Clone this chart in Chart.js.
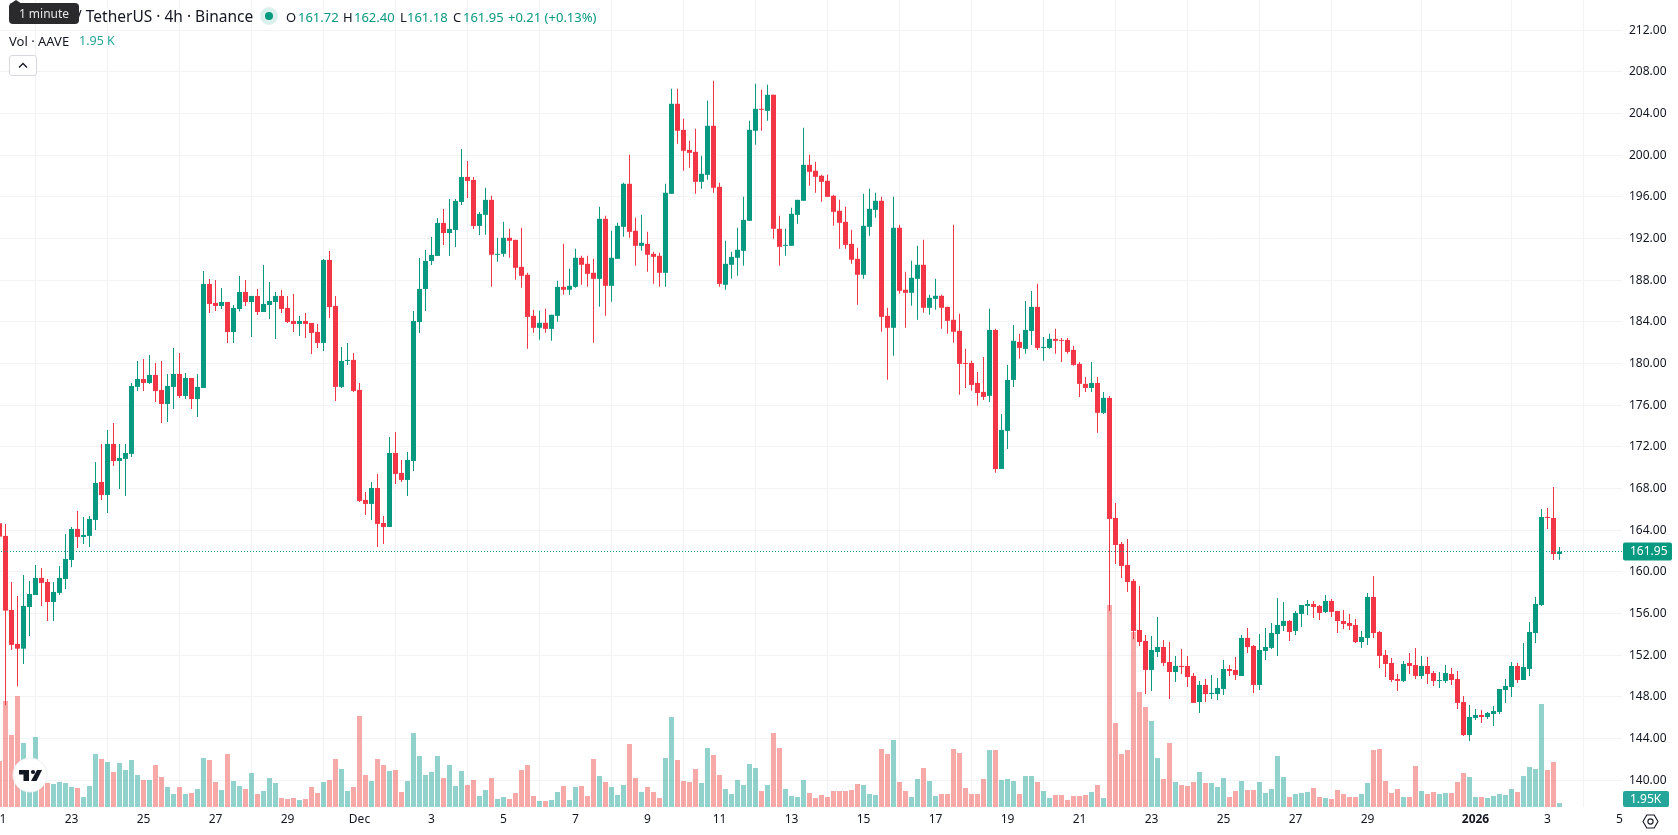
<!DOCTYPE html>
<html lang="en">
<head>
<meta charset="utf-8">
<title>AAVE / TetherUS 4h</title>
<script src="https://cdn.jsdelivr.net/npm/chart.js@4"></script>
<style>
  html, body { margin: 0; padding: 0; background: #fff; width: 1678px; height: 835px; overflow: hidden; }
  body { position: relative; font-family: "Noto Sans", sans-serif; color: #131722; }
  #price { position: absolute; left: -20px; top: 0; }
  .t { position: absolute; white-space: nowrap; line-height: 18px; }
  .v { color: #089981; }
  #tip { position: absolute; left: 9px; top: 3px; width: 70px; height: 21px; background: #2a2a2d; border-radius: 4px;
         color: #e6e6e6; font-size: 12px; line-height: 21px; text-align: center; }
  #tipArrow { position: absolute; left: 10px; top: 0; width: 0; height: 0; border-left: 6px solid transparent;
              border-right: 6px solid transparent; border-bottom: 4px solid #2a2a2d; }
  #dot { position: absolute; left: 260px; top: 7px; width: 18px; height: 18px; border-radius: 50%; background: rgba(8,153,129,.14); }
  #dot i { position: absolute; left: 5px; top: 5px; width: 8px; height: 8px; border-radius: 50%; background: #089981; }
  #fold { position: absolute; left: 9px; top: 55px; width: 26px; height: 19px; border: 1px solid #d6d8de; border-radius: 3px; background: #fff; }
  #logo { position: absolute; left: 12px; top: 757px; width: 36px; height: 36px; }
  #gear { position: absolute; left: 1642px; top: 813px; width: 17px; height: 17px; }
</style>
</head>
<body>
<canvas id="price" width="1698" height="835"></canvas>

<div class="t" style="left:76px;top:7px;font-size:15.5px">/ TetherUS · 4h · Binance</div>
<div id="tipArrow"></div><div id="tip">1 minute</div>
<div id="dot"><i></i></div>
<div class="t" style="left:286px;top:8px;font-size:13px">O</div><div class="t v" style="left:298px;top:8px;font-size:13px">161.72</div>
<div class="t" style="left:343px;top:8px;font-size:13px">H</div><div class="t v" style="left:354px;top:8px;font-size:13px">162.40</div>
<div class="t" style="left:400px;top:8px;font-size:13px">L</div><div class="t v" style="left:407px;top:8px;font-size:13px">161.18</div>
<div class="t" style="left:453px;top:8px;font-size:13px">C</div><div class="t v" style="left:463px;top:8px;font-size:13px">161.95</div>
<div class="t v" style="left:508px;top:8px;font-size:13px">+0.21 (+0.13%)</div>
<div class="t" style="left:9px;top:32px;font-size:13px">Vol · AAVE</div>
<div class="t" style="left:79px;top:32px;font-size:12.5px;color:#26a69a">1.95 K</div>
<div id="fold"><svg width="26" height="19" viewBox="0 0 26 19"><path d="M9 11.5 L13 7.5 L17 11.5" fill="none" stroke="#131722" stroke-width="1.3"/></svg></div>

<svg id="logo" viewBox="0 0 36 36">
  <circle cx="18" cy="18" r="17" fill="#fff" stroke="#eeeff2" stroke-width="1"/>
  <path d="M7 13 H17 V24 H11.5 V17.5 H7 Z" fill="#131722"/>
  <circle cx="21" cy="15" r="2.1" fill="#131722"/>
  <path d="M25 13 H30 L24.5 24 H19 Z" fill="#131722"/>
</svg>
<svg id="gear" viewBox="0 0 17 17">
  <path d="M4.8 2 H12.2 L16 8.5 L12.2 15 H4.8 L1 8.5 Z" fill="none" stroke="#131722" stroke-width="1.1"/>
  <circle cx="8.5" cy="8.5" r="2.6" fill="none" stroke="#131722" stroke-width="1.1"/>
</svg>

<script>
// AAVE/USDT 4h candles, one per array slot, starting 21 Nov 00:00.
const opens = [
  164.67,163.46,156.35,153.09,152.64,156.64,157.79,159.43,159.04,157.12,
  157.99,159.33,161.15,164.13,163.36,163.46,164.99,168.64,167.39,172.29,
  170.65,170.85,171.33,177.76,178.52,178.14,178.91,177.47,176.12,177.76,
  179.0,176.89,178.62,176.6,177.66,187.64,185.82,185.53,185.91,183.03,
  185.24,186.87,185.91,186.49,184.95,185.62,185.91,186.49,185.34,184.09,
  183.8,184.09,183.9,183.03,181.98,189.94,185.53,177.76,180.25,180.35,
  177.47,166.91,166.53,168.06,164.7,164.32,171.42,169.5,168.83,170.65,
  183.99,187.16,189.85,190.33,193.5,192.53,192.82,195.51,197.91,197.62,
  193.21,194.27,195.71,190.44,190.53,192.07,191.87,189.28,188.52,184.58,
  183.43,183.91,183.33,184.58,187.36,187.08,187.36,190.15,189.57,188.71,
  188.13,193.89,187.46,190.05,193.12,197.25,192.74,191.3,191.49,190.53,
  190.34,188.71,196.29,204.93,202.43,200.51,200.32,197.44,198.11,202.82,
  196.96,187.56,189.48,190.15,190.82,193.7,202.34,204.45,204.25,205.79,
  192.93,191.3,191.3,194.27,195.62,199.07,198.5,198.02,197.54,196.1,
  194.66,193.6,191.49,190.05,188.52,193.12,194.75,195.62,184.58,183.43,
  193.03,187.08,186.79,188.13,189.48,185.35,186.21,186.5,185.44,184.2,
  183.14,180.06,180.06,178.14,177.28,176.9,183.23,169.89,173.54,178.43,
  182.08,181.41,183.13,185.44,181.5,181.5,182.37,182.27,182.27,181.31,
  179.97,178.05,177.66,178.14,175.27,176.7,165.18,162.69,160.67,159.14,
  154.43,153.38,150.6,152.32,152.8,151.36,150.4,150.98,150.98,150.02,
  147.52,149.16,148.29,148.29,148.77,150.69,150.6,150.02,153.67,152.9,
  149.16,152.42,152.71,154.05,154.82,155.3,154.34,155.97,156.74,156.93,
  156.74,156.16,157.21,156.25,155.29,155.1,154.91,153.28,153.66,157.6,
  154.24,152.03,151.26,149.73,149.54,151.26,151.07,150.02,150.98,150.3,
  149.54,149.54,150.21,149.73,147.52,144.35,145.99,146.27,146.08,146.37,
  146.56,148.67,148.96,150.98,149.63,150.69,154.14,156.83,165.28,165.18,161.72
];
const highs = [
  164.9,164.6,159.04,157.7,159.71,159.14,160.67,160.39,159.33,159.04,
  160.58,163.65,164.32,165.86,165.28,165.38,170.56,172.29,173.63,174.3,
  172.29,172.29,178.14,180.25,180.44,180.83,180.06,180.25,179.0,181.5,
  181.02,179.1,178.62,179.0,188.89,188.12,188.02,187.26,185.91,185.62,
  188.4,188.02,186.49,187.16,189.46,187.83,186.87,187.06,186.49,186.68,
  184.57,184.86,183.9,183.8,190.04,190.81,186.49,181.59,181.98,181.02,
  178.14,167.68,168.64,169.41,165.38,172.96,173.44,170.75,171.52,185.05,
  190.14,190.9,192.15,193.97,194.84,195.8,195.8,200.6,199.45,197.91,
  194.55,196.87,196.1,192.07,193.6,192.93,191.87,193.03,188.71,185.16,
  185.06,185.25,184.68,187.94,191.49,189.09,191.01,190.34,190.34,190.05,
  195.04,194.18,192.74,193.51,197.34,200.03,193.99,194.27,192.64,190.72,
  190.63,197.25,206.37,206.37,203.49,201.38,202.53,199.94,205.21,207.13,
  197.34,191.78,190.72,193.03,196.0,203.29,206.85,206.27,206.75,205.79,
  194.18,192.93,194.95,195.71,202.62,200.03,199.36,198.11,198.11,196.19,
  195.71,195.04,192.83,191.11,196.29,196.77,196.39,196.0,185.35,196.0,
  193.31,188.8,189.86,191.3,191.87,186.6,188.13,186.6,185.44,193.31,
  184.77,181.41,180.26,179.2,180.64,185.25,183.33,175.17,179.87,183.71,
  182.85,186.01,186.97,187.65,182.56,182.85,183.33,182.46,182.46,181.7,
  180.16,178.72,180.16,178.72,177.28,176.89,166.62,162.88,163.17,159.33,
  158.66,153.95,153.86,155.68,153.47,153.28,151.94,152.61,151.94,150.31,
  149.54,149.73,150.12,149.83,151.55,151.07,151.84,153.95,154.63,152.99,
  154.05,154.63,155.11,157.5,157.12,155.39,156.26,156.83,157.31,157.22,
  156.83,157.79,157.41,156.25,156.35,155.97,155.49,154.34,157.98,159.61,
  154.34,152.51,151.74,150.21,151.46,152.22,152.7,151.94,151.84,150.5,
  150.4,151.07,150.78,150.5,148.1,147.23,146.85,146.75,146.56,147.14,
  148.77,149.73,151.36,151.26,153.18,155.2,157.6,166.04,166.14,168.15,162.40
];
const lows = [
  163.0,147.2,152.52,149.0,151.17,153.86,157.79,156.74,155.3,155.3,
  157.79,158.37,160.48,162.3,162.69,162.4,164.03,166.91,165.66,170.17,
  167.97,167.29,171.04,177.37,177.37,178.04,176.32,174.3,174.4,175.64,
  176.7,176.6,175.64,174.88,177.66,184.86,185.05,185.24,181.98,181.98,
  185.0,185.53,182.55,184.67,184.95,184.28,182.36,184.86,183.9,183.03,
  182.65,182.46,180.92,181.5,181.21,184.38,176.41,177.66,179.87,177.28,
  166.72,165.47,164.99,162.4,162.69,164.32,168.45,168.64,167.29,169.69,
  182.94,185.05,189.46,190.33,191.38,190.33,191.19,195.22,195.9,192.92,
  192.34,192.35,187.36,189.76,190.24,190.15,188.04,187.27,181.41,182.95,
  182.28,182.95,182.18,184.0,186.6,186.6,187.27,187.56,187.36,181.99,
  185.44,184.58,185.92,190.05,192.16,192.07,189.38,190.82,188.8,187.65,
  187.36,187.36,196.29,201.09,198.5,198.78,196.29,196.77,197.63,196.39,
  187.36,187.08,188.13,188.42,189.38,193.7,200.99,202.34,203.29,191.97,
  189.38,190.34,191.3,193.41,195.62,197.06,196.39,195.52,196.0,193.22,
  191.01,191.01,189.57,185.64,188.13,192.26,193.99,183.05,178.44,180.76,
  186.69,183.43,185.54,184.2,184.87,184.68,185.16,183.33,182.85,181.99,
  177.0,177.66,177.38,175.94,176.51,176.32,169.51,169.89,171.81,177.76,
  180.45,180.93,181.79,181.31,180.26,181.41,180.93,180.16,180.93,179.78,
  176.8,177.28,177.28,173.35,175.17,156.26,160.77,159.42,158.08,153.57,
  152.9,148.29,148.58,151.84,150.98,147.81,149.44,150.21,148.96,147.43,
  146.47,147.52,147.81,147.72,148.2,150.02,149.64,150.02,152.23,148.39,
  148.68,151.55,152.61,151.94,154.34,153.38,153.95,154.72,155.87,155.59,
  155.39,156.07,155.68,154.14,154.53,154.43,153.18,152.7,152.99,153.66,
  150.78,149.92,149.44,148.58,149.44,150.21,149.73,149.73,149.25,149.06,
  148.87,149.34,149.15,146.85,144.26,143.78,145.79,145.51,145.89,145.22,
  146.37,147.43,148.0,149.34,149.63,150.02,153.18,156.73,164.12,161.15,161.18
];
const closes = [
  163.39,156.29,153.0,152.64,156.74,157.89,159.43,158.95,157.12,158.08,
  159.43,161.25,164.13,163.36,163.55,165.09,168.54,167.39,172.29,170.65,
  170.94,171.42,177.85,178.52,178.14,178.91,177.37,176.12,177.85,179.0,
  176.89,178.62,176.6,177.76,187.64,185.72,185.53,185.91,183.03,185.34,
  186.87,185.91,186.49,184.95,185.72,186.01,186.49,185.24,183.99,183.8,
  184.09,183.8,182.94,181.98,189.94,185.43,177.76,180.25,180.35,177.37,
  166.82,166.53,168.06,164.61,164.32,171.42,169.41,168.83,170.75,184.09,
  187.16,189.85,190.42,193.5,192.53,192.92,195.61,197.91,197.53,193.21,
  194.36,195.71,190.44,190.53,192.07,191.78,189.19,188.42,184.48,183.43,
  183.91,183.33,184.68,187.36,187.08,187.46,190.15,189.48,188.61,188.13,
  193.89,187.46,190.15,193.22,197.25,192.64,191.3,191.59,190.44,190.24,
  188.71,196.39,204.93,202.34,200.42,200.22,197.44,198.21,202.82,196.87,
  187.65,189.57,190.24,190.92,193.79,202.43,204.45,204.35,205.79,192.93,
  191.2,191.39,194.37,195.71,199.07,198.4,197.92,197.44,196.0,194.56,
  193.51,191.39,189.96,188.52,193.22,194.85,195.62,184.48,183.43,193.03,
  186.98,186.79,188.23,189.48,185.35,186.31,186.5,185.35,184.1,183.05,
  179.97,179.97,177.95,177.18,176.8,183.23,169.89,173.63,178.43,182.18,
  181.5,183.23,185.44,181.5,181.6,182.37,182.18,182.18,181.12,179.87,
  178.05,177.66,178.14,175.27,176.71,165.09,162.59,160.58,159.04,154.34,
  153.28,150.6,152.51,152.8,151.27,150.4,150.98,150.88,149.92,147.43,
  149.16,148.29,148.39,148.87,150.69,150.5,150.12,153.67,152.8,149.16,
  152.51,152.8,154.15,154.91,155.3,154.24,156.07,156.83,156.93,156.64,
  156.07,157.22,156.16,155.29,155.01,154.82,153.28,153.76,157.6,154.14,
  151.94,151.17,149.63,149.54,151.17,150.98,150.02,150.98,150.21,149.54,
  149.63,150.3,149.63,147.43,144.35,146.08,146.27,146.08,146.47,146.66,
  148.77,149.06,150.98,149.63,150.88,154.24,156.93,165.28,165.18,161.72,161.95
];
// Traded volume per candle, in thousands of AAVE.
const volumes = [
  23,53,36,55.5,32,20,35,12,12,11.5,
  12.5,12,10,9.5,5,10.5,26.5,24,22.5,17.5,
  22,18.5,23.5,16,13.5,13.5,21,15,10,6.5,
  10,6.5,7,9,24.5,23.5,12.5,8.5,26.5,13,
  10.5,9,17,6.5,8,14.5,12,4.5,4,4.5,
  3.5,4,10,7,12.5,13.5,24,19,8,10,
  45.5,16,13,24,21,18,18.5,7.5,13,37,
  25.5,16,17.5,25.5,14.5,21,10.5,18,11,13.5,
  5.5,8.5,14.5,4,5,4,7,18.5,21,5.5,
  3,3,3.5,7.5,10.5,3.5,10,10.5,5.5,24,
  15.5,12.5,10,6,11,31.5,14.5,7.5,10,7.5,
  4.5,24.5,45,23.5,13,12.5,19,12,29.5,26,
  16,9,6.5,13.5,11,21.5,19.5,8,11,37,
  29.5,9,5.5,5,13.5,7,4.5,6,5,8,
  8,8,8.5,11.5,11,6.5,6,29,26.5,33.5,
  12.5,8,5,14,19.5,13,5.5,6.5,6.5,29,
  27,9.5,6.5,6.5,14,28.5,28.5,13.5,14,13,
  6.5,15.5,15.5,12.5,8,4.5,6,6,3.5,5.5,
  5.5,6,7.5,11,4.5,101,42,26.5,28.5,87.5,
  57.5,50,43,24.5,14,32,12.5,11,10.5,12.5,
  17.5,12,12,10,14.5,5,8,13,8.5,8.5,
  12.5,7,9,25.5,15,5,6.5,7,7.5,9.5,
  5,4.5,4,8.5,6.5,5,5,6.5,12,28.5,
  29,13,7,9,5,5,20.5,8,6.5,7.5,
  6.5,7,7,12.5,17,15,5,5,4.5,5.5,
  6.5,6,9,7.5,15.5,20,19,51.5,18.5,22.5,1.95
];
const dateTickSlots = [0,12,24,36,48,60,72,84,96,108,120,132,144,156,168,180,192,204,216,228,246,258,270];
const dateTickLabels = ['21','23','25','27','29','Dec','3','5','7','9','11','13','15','17','19','21','23','25','27','29','2026','3','5'];
const priceTicks = [140,144,148,152,156,160,164,168,172,176,180,184,188,192,196,200,204,208,212];
const lastPrice = 161.95;
const lastVolume = 1.95;

const UP = '#089981', DOWN = '#F23645';
const VOL_UP = 'rgba(38,166,154,.5)', VOL_DOWN = 'rgba(239,83,80,.5)';
const GRID = '#f2f3f5', TEXT = '#131722';
const FONT = '"Noto Sans", sans-serif';
const slots = closes.map((_, i) => i);
const isUp = i => closes[i] >= opens[i];

// Last-price dotted line and the two value badges on the right axis.
const lastValueMarks = {
  id: 'lastValueMarks',
  afterDatasetsDraw(chart) {
    const { ctx, chartArea, scales } = chart;
    const y = Math.floor(scales.y.getPixelForValue(lastPrice)) + 0.5;
    ctx.save();
    ctx.strokeStyle = UP;
    ctx.lineWidth = 1;
    ctx.setLineDash([1, 2]);
    ctx.beginPath();
    ctx.moveTo(chartArea.left, y);
    ctx.lineTo(chartArea.right, y);
    ctx.stroke();
    ctx.setLineDash([]);
    ctx.font = '12px ' + FONT;
    ctx.textBaseline = 'middle';
    ctx.textAlign = 'left';
    const right = chartArea.right;
    ctx.fillStyle = UP;
    ctx.beginPath();
    ctx.roundRect(right + 1, y - 9, 49, 18, 2);
    ctx.fill();
    ctx.fillStyle = '#fff';
    ctx.fillText(lastPrice.toFixed(2), right + 8, y + 0.5);
    const vy = scales.v.getPixelForValue(0);
    ctx.fillStyle = '#26a69a';
    ctx.beginPath();
    ctx.roundRect(right + 1, vy - 16, 46, 16, 2);
    ctx.fill();
    ctx.fillStyle = '#fff';
    ctx.fillText(lastVolume.toFixed(2) + 'K', right + 8, vy - 7.5);
    ctx.restore();
  }
};

new Chart(document.getElementById('price'), {
  type: 'bar',
  data: {
    datasets: [
      {
        label: 'Body',
        order: 1,
        barThickness: 5,
        yAxisID: 'y',
        data: slots.map(i => ({ x: i, y: [opens[i], closes[i]] })),
        backgroundColor: slots.map(i => isUp(i) ? UP : DOWN)
      },
      {
        label: 'Wick',
        order: 2,
        barThickness: 1,
        yAxisID: 'y',
        data: slots.map(i => ({ x: i, y: [lows[i], highs[i]] })),
        backgroundColor: slots.map(i => isUp(i) ? UP : DOWN)
      },
      {
        label: 'Volume',
        order: 3,
        barThickness: 5,
        yAxisID: 'v',
        data: slots.map(i => ({ x: i, y: volumes[i] })),
        backgroundColor: slots.map(i => isUp(i) ? VOL_UP : VOL_DOWN)
      }
    ]
  },
  options: {
    responsive: false,
    animation: false,
    layout: { padding: 0, autoPadding: false },
    datasets: { bar: { grouped: false, borderWidth: 0, inflateAmount: 0 } },
    plugins: { legend: { display: false }, tooltip: { enabled: false } },
    events: [],
    scales: {
      x: {
        type: 'linear',
        min: -3.25,
        max: 270.4167,
        offset: false,
        border: { display: false },
        grid: { color: GRID, drawTicks: false },
        afterBuildTicks: axis => { axis.ticks = dateTickSlots.map(v => ({ value: v })); },
        afterFit: axis => { axis.height = 28; axis.paddingLeft = 0; axis.paddingRight = 0; },
        ticks: {
          autoSkip: false,
          maxRotation: 0,
          padding: 5,
          color: TEXT,
          font: c => ({ family: FONT, size: 12, weight: dateTickLabels[c.index] === '2026' ? 'bold' : 'normal' }),
          callback: (value, index) => dateTickLabels[index]
        }
      },
      y: {
        position: 'right',
        min: 137.443,
        max: 214.89,
        border: { display: false },
        grid: { color: GRID, drawTicks: false },
        afterBuildTicks: axis => { axis.ticks = priceTicks.map(v => ({ value: v })); },
        afterFit: axis => { axis.width = 56; axis.paddingTop = 0; axis.paddingBottom = 0; },
        ticks: {
          padding: 7,
          color: TEXT,
          font: { family: FONT, size: 12 },
          callback: value => Number(value).toFixed(2)
        }
      },
      v: {
        display: false,
        min: 0,
        max: 403.5
      }
    }
  },
  plugins: [lastValueMarks]
});
</script>
</body>
</html>
